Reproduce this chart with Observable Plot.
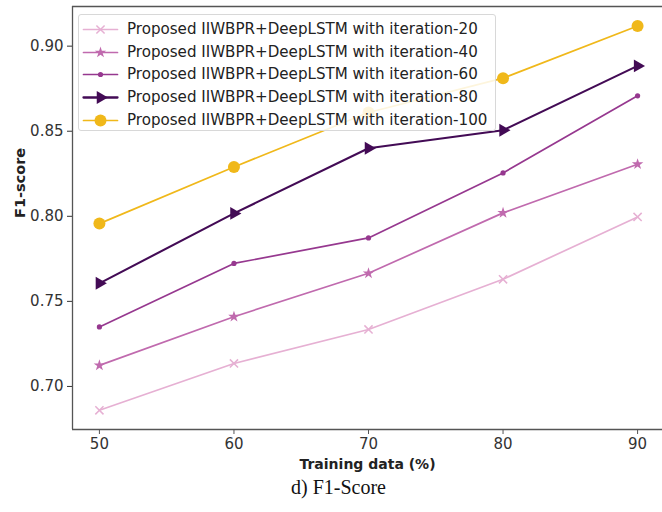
<!DOCTYPE html>
<html>
<head>
<meta charset="utf-8">
<script src="https://cdn.jsdelivr.net/npm/d3@7"></script>
<script src="https://cdn.jsdelivr.net/npm/@observablehq/plot@0.6"></script>
<style>
  html, body { margin: 0; padding: 0; background: #fff; }
  #wrap { position: relative; width: 662px; height: 512px; overflow: hidden; font-family: "DejaVu Sans", sans-serif; }
  #legend { position: absolute; left: 78px; top: 14px; width: 418px; height: 117px; box-sizing: border-box;
    border: 1px solid #d8d8d8; border-radius: 3px; background: rgba(255,255,255,0.85); padding-top: 3px; }
  .row { display: flex; align-items: center; height: 22.6px; }
  .row svg { margin-left: 4px; margin-right: 10px; }
  .row span { font-size: 15.1px; color: #222; white-space: nowrap; }
</style>
</head>
<body>
<div id="wrap"></div>
<script>
// ---- data ----
const trainingData = [50, 60, 70, 80, 90];
const iter20  = [0.686, 0.7135, 0.7335, 0.763, 0.7996];
const iter40  = [0.7124, 0.741, 0.7665, 0.802, 0.8306];
const iter60  = [0.735, 0.7723, 0.7873, 0.8255, 0.8708];
const iter80  = [0.7606, 0.8017, 0.840, 0.8506, 0.8884];
const iter100 = [0.7957, 0.829, 0.861, 0.8812, 0.9118];
const seriesNames = [
  "Proposed IIWBPR+DeepLSTM with iteration-20",
  "Proposed IIWBPR+DeepLSTM with iteration-40",
  "Proposed IIWBPR+DeepLSTM with iteration-60",
  "Proposed IIWBPR+DeepLSTM with iteration-80",
  "Proposed IIWBPR+DeepLSTM with iteration-100"
];
const seriesValues = [iter20, iter40, iter60, iter80, iter100];
const seriesColors = ["#e6b0d3", "#c06aae", "#96388f", "#430b55", "#f0b81a"];
const seriesSymbols = ["times", "star", "circle", "triangle", "circle"];
const seriesR = [3.8, 3.6, 2.6, 4.8, 6];
const seriesRotate = [0, 0, 0, 90, 0];
const yTicks = [0.70, 0.75, 0.80, 0.85, 0.90];
const xLabel = "Training data (%)";
const yLabel = "F1-score";
const caption = "d) F1-Score";

const rows = seriesNames.flatMap((name, i) =>
  trainingData.map((x, j) => ({series: name, idx: i, x, y: seriesValues[i][j]})));

const xDomain = [48, 92];
const yDomain = [0.6747, 0.9233];

const marks = [
  Plot.ruleY([yDomain[0], yDomain[1]], {stroke: "#555", strokeWidth: 1.3}),
  Plot.ruleX([xDomain[0]], {stroke: "#555", strokeWidth: 1.3}),
  Plot.axisX({ticks: trainingData, tickSize: 5, tickPadding: 4, fontSize: 15, color: "#333", label: null, stroke: "#555"}),
  Plot.axisY({ticks: yTicks, tickFormat: d3.format(".2f"), tickSize: 5, tickPadding: 4, fontSize: 15, color: "#333", label: null}),
];
seriesNames.forEach((name, i) => {
  const d = rows.filter(r => r.idx === i);
  marks.push(Plot.line(d, {x: "x", y: "y", stroke: seriesColors[i], strokeWidth: i === 3 ? 2.1 : 1.7}));
  if (seriesSymbols[i] === "times") {
    marks.push(Plot.dot(d, {x: "x", y: "y", symbol: "times", r: seriesR[i], stroke: seriesColors[i], strokeWidth: 1.5}));
  } else {
    marks.push(Plot.dot(d, {x: "x", y: "y", symbol: seriesSymbols[i], r: seriesR[i], fill: seriesColors[i], stroke: "none", rotate: seriesRotate[i]}));
  }
});
marks.push(Plot.text([xLabel], {frameAnchor: "bottom", dy: 39, text: d => d, fontWeight: "bold", fontSize: 14, fill: "#222"}));
marks.push(Plot.text([caption], {frameAnchor: "bottom", dx: -29, dy: 64, text: d => d, fontFamily: "Liberation Serif, serif", fontSize: 20, fill: "#111"}));
marks.push(Plot.text([yLabel], {frameAnchor: "left", dx: -52, dy: 0, rotate: -90, text: d => d, fontWeight: "bold", fontSize: 14.5, fill: "#222"}));

const chart = Plot.plot({
  width: 662,
  height: 512,
  marginLeft: 72,
  marginRight: 0,
  marginTop: 6,
  marginBottom: 83,
  style: {fontFamily: "DejaVu Sans, sans-serif", background: "#fff", overflow: "visible"},
  x: {domain: xDomain, range: [72, 664]},
  y: {domain: yDomain, range: [429, 6]},
  marks
});
const wrap = document.getElementById("wrap");
wrap.appendChild(chart);

// legend overlay
const legend = document.createElement("div");
legend.id = "legend";
seriesNames.forEach((name, i) => {
  const row = document.createElement("div");
  row.className = "row";
  const sw = Plot.plot({
    width: 34, height: 16, margin: 0,
    x: {domain: [0, 2], range: [0, 34], axis: null},
    y: {domain: [0, 1], range: [16, 0], axis: null},
    marks: [
      Plot.line([[0, 0.5], [2, 0.5]], {stroke: seriesColors[i], strokeWidth: i === 3 ? 2.3 : 1.7}),
      seriesSymbols[i] === "times"
        ? Plot.dot([[1, 0.5]], {symbol: "times", r: seriesR[i], stroke: seriesColors[i], strokeWidth: 1.5})
        : Plot.dot([[1, 0.5]], {symbol: seriesSymbols[i], r: seriesR[i], fill: seriesColors[i], stroke: "none", rotate: seriesRotate[i]})
    ]
  });
  sw.style.overflow = "visible";
  row.appendChild(sw);
  const t = document.createElement("span");
  t.textContent = name;
  row.appendChild(t);
  legend.appendChild(row);
});
wrap.appendChild(legend);
</script>
</body>
</html>
